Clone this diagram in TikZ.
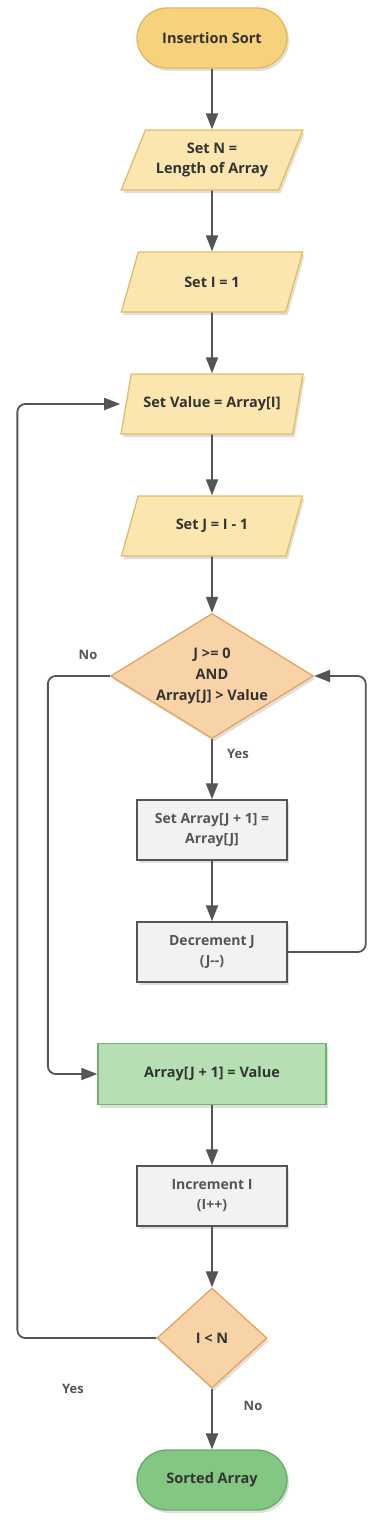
\documentclass[tikz,border=0pt]{standalone}
\usepackage{fontspec}
\setmainfont{Open Sans}
\usetikzlibrary{shapes.geometric, arrows.meta, shadows}

\definecolor{termYellow}{HTML}{F7D27C}
\definecolor{termYellowLine}{HTML}{E2B85E}
\definecolor{ioFill}{HTML}{FCE6B0}
\definecolor{ioLine}{HTML}{E2BE5E}
\definecolor{decFill}{HTML}{F9D3A8}
\definecolor{decLine}{HTML}{E5A35C}
\definecolor{procFill}{HTML}{F2F2F2}
\definecolor{procLine}{HTML}{555555}
\definecolor{greenFill}{HTML}{B6E0B4}
\definecolor{greenLine}{HTML}{6CB56A}
\definecolor{termGreen}{HTML}{83C783}
\definecolor{termGreenLine}{HTML}{66AD66}
\definecolor{wire}{HTML}{555555}
\definecolor{ink}{HTML}{333333}

\tikzstyle{boxshadow} = [drop shadow={shadow xshift=2pt, shadow yshift=-3pt, opacity=0.12, fill=black}]
\tikzstyle{startstop} = [rectangle, rounded corners=30pt, minimum width=150pt, minimum height=60pt, text centered, draw=termYellowLine, fill=termYellow, line width=1.3pt, boxshadow, text=ink, font=\fontsize{14.5}{20}\selectfont\bfseries]
\tikzstyle{io} = [trapezium, trapezium left angle=59, trapezium right angle=121, trapezium stretches=true, minimum width=182pt, minimum height=60pt, inner sep=0pt, align=center, draw=ioLine, fill=ioFill, line width=1.3pt, boxshadow, text=ink, font=\fontsize{14.5}{20}\selectfont\bfseries]
\tikzstyle{decision} = [diamond, inner sep=0pt, align=center, draw=decLine, fill=decFill, line width=1.3pt, boxshadow, text=ink, font=\fontsize{14.5}{21}\selectfont\bfseries]
\tikzstyle{process} = [rectangle, minimum width=150pt, minimum height=60pt, align=center, draw=procLine, fill=procFill, line width=1.5pt, boxshadow, text=procLine, font=\fontsize{14}{20}\selectfont\bfseries]
\tikzstyle{result} = [rectangle, minimum width=228pt, minimum height=61pt, align=center, draw=greenLine, fill=greenFill, line width=1.3pt, boxshadow, text=ink, font=\fontsize{14.5}{20}\selectfont\bfseries]
\tikzstyle{answer} = [text=procLine, font=\fontsize{13}{16}\selectfont\bfseries]
\tikzstyle{arrow} = [line width=1.8pt, draw=wire, -{Triangle[width=12pt,length=16pt]}, rounded corners=8pt]

\begin{document}
\begin{tikzpicture}[x=1pt, y=-1pt]

    \useasboundingbox (0,0) rectangle (385,1520);

    % Nodes
    \node[startstop] (start) at (212,38) {Insertion Sort};
    \node[io] (setN) at (212,160) {Set N =\\Length of Array};
    \node[io] (setI) at (212,282) {Set I = 1};
    \node[io] (setValue) at (212,404) {Set Value = Array[I]};
    \node[io] (setJ) at (212,526) {Set J = I - 1};
    \node[decision, aspect=1.62, minimum width=203pt, minimum height=125pt] (whileCheck) at (212,676) {J >= 0\\AND\\Array[J] > Value};
    \node[process] (shift) at (212,830) {Set Array[J + 1] =\\Array[J]};
    \node[process] (decJ) at (212,952) {Decrement J\\(J-{}-)};
    \node[result] (insert) at (212,1074) {Array[J + 1] = Value};
    \node[process] (incI) at (212,1196) {Increment I\\(I++)};
    \node[decision, aspect=1.1, minimum width=110pt, minimum height=100pt] (forCheck) at (212,1338) {I < N};
    \node[startstop, fill=termGreen, draw=termGreenLine] (sorted) at (212,1480) {Sorted Array};

    \node[answer] (whileNo) at (88,655) {No};
    \node[answer] (whileYes) at (238,754) {Yes};
    \node[answer] (forYes) at (73,1389) {Yes};
    \node[answer] (forNo) at (253,1406) {No};

    % Arrows
    \draw[arrow] (start) -- (setN);
    \draw[arrow] (setN) -- (setI);
    \draw[arrow] (setI) -- (setValue);
    \draw[arrow] (setValue) -- (setJ);
    \draw[arrow] (setJ) -- (whileCheck);
    \draw[arrow] (whileCheck) -- (shift);
    \draw[arrow] (shift) -- (decJ);
    \draw[arrow] (decJ.east) -- ++(78,0) |- (whileCheck.east);
    \draw[arrow] (whileCheck.west) -- ++(-62,0) |- (insert.west);
    \draw[arrow] (insert) -- (incI);
    \draw[arrow] (incI) -- (forCheck);
    \draw[arrow] (forCheck) -- (sorted);
    \draw[arrow] (forCheck.west) -- ++(-139,0) |- (setValue.bottom left corner |- setValue.center);

\end{tikzpicture}
\end{document}
